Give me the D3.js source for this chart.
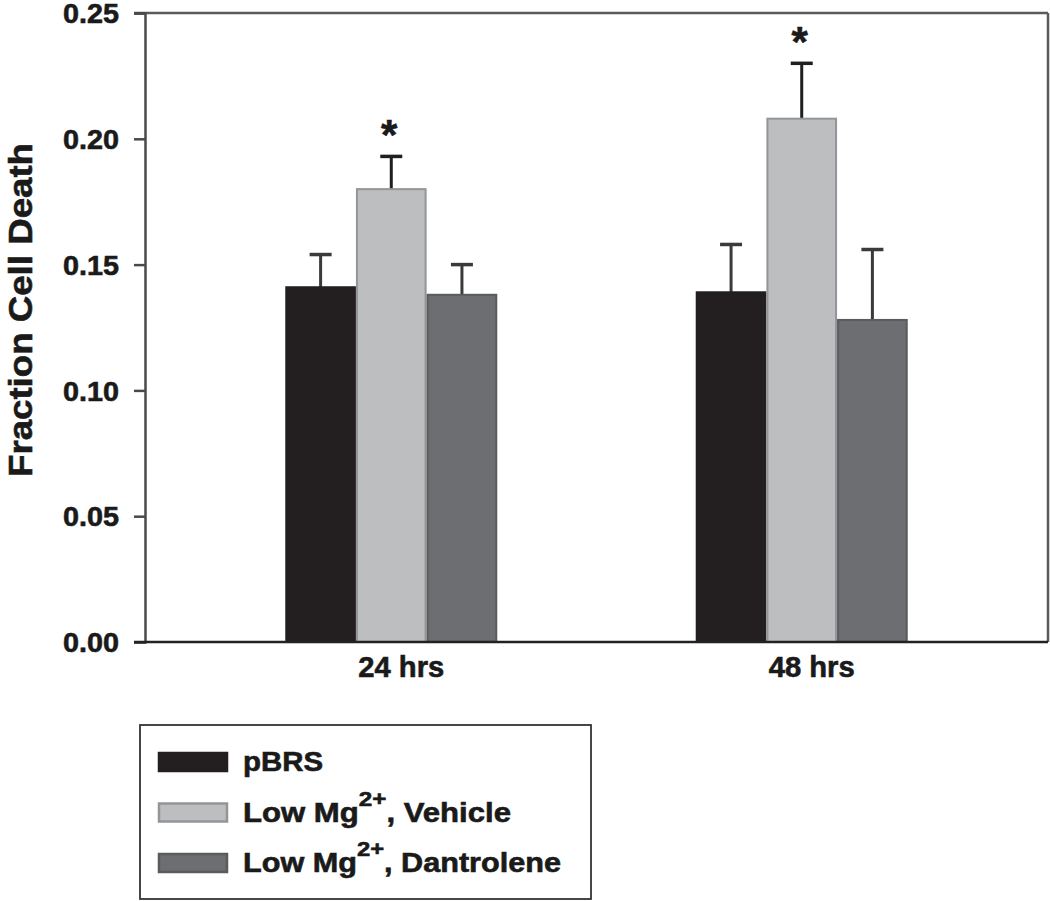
<!DOCTYPE html>
<html>
<head>
<meta charset="utf-8">
<script src="https://cdn.jsdelivr.net/npm/d3@7"></script>
<style>
  html, body { margin: 0; padding: 0; background: #fff; }
  svg text { font-family: "Liberation Sans", Arial, Helvetica, sans-serif; font-weight: bold; fill: #1a1a1a; stroke: #1a1a1a; stroke-width: 0.6px; }
</style>
</head>
<body>
<svg id="chart" width="1050" height="901"></svg>
<script>
// ---- data ----
const groups = ["24 hrs", "48 hrs"];
const series = ["pBRS", "Low Mg2+, Vehicle", "Low Mg2+, Dantrolene"];
const means24 = [0.141, 0.180, 0.138];
const means48 = [0.139, 0.208, 0.128];
const sem24 = [0.013, 0.013, 0.012];
const sem48 = [0.019, 0.022, 0.028];
const significant24 = [false, true, false];
const significant48 = [false, true, false];
const yTicks = [0.00, 0.05, 0.10, 0.15, 0.20, 0.25];
const yLabel = "Fraction Cell Death";

const data = [
  { group: groups[0], means: means24, sem: sem24, sig: significant24 },
  { group: groups[1], means: means48, sem: sem48, sig: significant48 }
];

// ---- layout ----
const plotL = 145, plotR = 1048, plotT = 13, plotB = 642;
const fills = ["#231f20", "#bcbec0", "#6d6e71"];
const strokes = ["#231f20", "#939598", "#5a5b5d"];

const svg = d3.select("#chart");

const y = d3.scaleLinear().domain([0, 0.25]).range([plotB, plotT]);
const x0 = d3.scalePoint().domain(groups).range([plotL, plotR]).padding(0.6);
const x1 = d3.scaleBand().domain(series).range([-106, 106]).padding(0);

// bars
const g = svg.append("g");
data.forEach(d => {
  const gg = g.append("g").attr("transform", `translate(${x0(d.group)},0)`);
  series.forEach((s, i) => {
    const v = d.means[i], e = d.sem[i];
    const bx = x1(s), bw = x1.bandwidth();
    const cx = bx + bw / 2;
    const ebColor = i === 1 ? "#1f1f1f" : "#3a3a3a";
    gg.append("line")
      .attr("x1", cx).attr("x2", cx)
      .attr("y1", y(v)).attr("y2", y(v + e))
      .attr("stroke", ebColor).attr("stroke-width", 3);
    gg.append("line")
      .attr("x1", cx - 11).attr("x2", cx + 11)
      .attr("y1", y(v + e)).attr("y2", y(v + e))
      .attr("stroke", ebColor).attr("stroke-width", 3.5);
    gg.append("rect")
      .attr("x", bx + 1).attr("y", y(v))
      .attr("width", bw - 2).attr("height", y(0) - y(v))
      .attr("fill", fills[i]).attr("stroke", strokes[i]).attr("stroke-width", 2);
    if (d.sig[i]) {
      gg.append("text")
        .attr("x", cx - 2).attr("y", y(v + e) - 31 + 24)
        .attr("text-anchor", "middle")
        .attr("font-size", 42)
        .text("*");
    }
  });
});

// frame
svg.append("line").attr("x1", plotL - 11).attr("x2", plotR).attr("y1", plotT).attr("y2", plotT)
  .attr("stroke", "#5a5a5a").attr("stroke-width", 2.5);
svg.append("line").attr("x1", plotR).attr("x2", plotR).attr("y1", plotT).attr("y2", plotB)
  .attr("stroke", "#5a5a5a").attr("stroke-width", 2.5);

// y axis
const yAxis = svg.append("g").attr("transform", `translate(${plotL},0)`)
  .call(d3.axisLeft(y).tickValues(yTicks).tickSize(11).tickPadding(14).tickFormat(d3.format(".2f")));
yAxis.select(".domain").attr("stroke", "#4a4a4a").attr("stroke-width", 2.5);
yAxis.selectAll(".tick line").attr("stroke", "#4a4a4a").attr("stroke-width", 2.5);
yAxis.selectAll(".tick text")
  .attr("font-size", 27).attr("font-family", null).attr("font-weight", "bold")
  .attr("dy", "0.36em").attr("x", -26)
  .attr("textLength", 56).attr("lengthAdjust", "spacingAndGlyphs")
  .attr("fill", "#1a1a1a");

// x axis baseline
svg.append("line").attr("x1", plotL - 11).attr("x2", plotR).attr("y1", plotB).attr("y2", plotB)
  .attr("stroke", "#222").attr("stroke-width", 2.5);

// x labels
groups.forEach(gname => {
  svg.append("text")
    .attr("x", x0(gname) + 10).attr("y", 677)
    .attr("text-anchor", "middle").attr("font-size", 29)
    .attr("textLength", 86).attr("lengthAdjust", "spacingAndGlyphs")
    .text(gname);
});

// y label
svg.append("text")
  .attr("transform", `translate(32,310) rotate(-90)`)
  .attr("text-anchor", "middle").attr("font-size", 34)
  .attr("textLength", 334).attr("lengthAdjust", "spacingAndGlyphs")
  .text(yLabel);

// legend
const lg = svg.append("g");
lg.append("rect").attr("x", 140).attr("y", 725).attr("width", 451).attr("height", 174)
  .attr("fill", "#fff").attr("stroke", "#333").attr("stroke-width", 1.8);
const rowY = d3.scalePoint().domain(series).range([771, 872]);
series.forEach((s, i) => {
  const by = rowY(s);
  lg.append("rect").attr("x", 159).attr("y", by - 18).attr("width", 68).attr("height", 18)
    .attr("fill", fills[i]).attr("stroke", strokes[i]).attr("stroke-width", 2.5);
  const t = lg.append("text").attr("x", 243).attr("y", by).attr("font-size", 27);
  if (s.indexOf("Mg2+") >= 0) {
    const parts = s.split("Mg2+");
    t.append("tspan").text(parts[0] + "Mg");
    t.append("tspan").attr("font-size", 21).attr("dy", -16).text("2+");
    t.append("tspan").attr("dy", 16).text(parts[1]);
    t.attr("textLength", i === 1 ? 268 : 318).attr("lengthAdjust", "spacingAndGlyphs");
  } else {
    t.text(s).attr("textLength", 80).attr("lengthAdjust", "spacingAndGlyphs");
  }
});
</script>
</body>
</html>
